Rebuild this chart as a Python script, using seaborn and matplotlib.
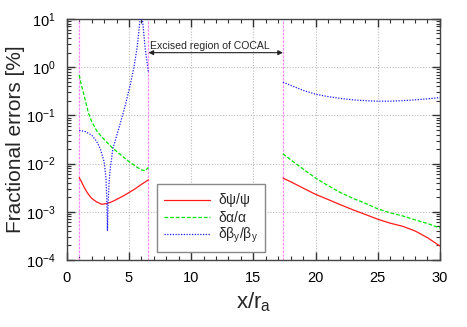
import numpy as np
import pandas as pd
import seaborn as sns
import matplotlib.pyplot as plt
from matplotlib.ticker import LogLocator, MultipleLocator, NullFormatter

# values (x/r_a, fractional error in %)
x_in = [1.0, 1.2, 1.4, 1.6, 1.8, 2.0, 2.4, 2.8, 3.2, 3.6, 4.0, 4.5, 5.0, 5.5, 6.0, 6.57]
psi_in = [0.0051, 0.0041, 0.0032, 0.0026, 0.0022, 0.0019, 0.0016, 0.00143, 0.00148,
          0.0016, 0.0018, 0.0021, 0.0025, 0.0030, 0.0037, 0.0046]

x_in_a = [1.0, 1.15, 1.3, 1.5, 1.75, 2.0, 2.4, 2.8, 3.2, 3.6, 4.0, 4.5, 5.0, 5.6, 6.0, 6.3, 6.57]
alpha_in = [0.69, 0.45, 0.32, 0.20, 0.11, 0.075, 0.048, 0.036, 0.028, 0.022, 0.018,
            0.014, 0.011, 0.0086, 0.0074, 0.0071, 0.0083]

x_in_b = [1.0, 1.5, 2.0, 2.4, 2.7, 3.0, 3.15, 3.22, 3.27, 3.32, 3.4, 3.5, 3.7, 4.0,
          4.3, 4.7, 5.1, 5.4, 5.65, 5.9, 5.97, 6.08, 6.3, 6.57]
beta_in = [0.049, 0.046, 0.039, 0.029, 0.020, 0.011, 0.005, 0.0018, 0.0004, 0.0015,
           0.004, 0.008, 0.02, 0.037, 0.068, 0.16, 0.43, 1.0, 2.5, 10, 30, 10, 2.5, 0.76]

x_out = [17.38, 18, 19, 20, 21, 22, 23, 24, 25, 26, 27, 28, 29, 30]
psi_out = [0.0050, 0.0042, 0.0031, 0.0023, 0.0018, 0.0014, 0.0011, 0.00088, 0.00070,
           0.00058, 0.00050, 0.00040, 0.00029, 0.000195]
alpha_out = [0.016, 0.012, 0.0077, 0.0050, 0.0035, 0.0025, 0.0019, 0.0015, 0.00115,
             0.00095, 0.00082, 0.00068, 0.00057, 0.00046]
beta_out = [0.49, 0.42, 0.33, 0.275, 0.245, 0.225, 0.21, 0.202, 0.197, 0.197, 0.202,
            0.21, 0.22, 0.234]

boundaries = [1.0, 6.57, 17.38]

labels = [r'$\delta\psi/\psi$', r'$\delta\alpha/\alpha$', r'$\delta\beta_y/\beta_y$']
colors = ['#ff1a1a', '#00e600', '#1a1aff']

segs = [
    (x_in, psi_in, labels[0], 'in'), (x_out, psi_out, labels[0], 'out'),
    (x_in_a, alpha_in, labels[1], 'in'), (x_out, alpha_out, labels[1], 'out'),
    (x_in_b, beta_in, labels[2], 'in'), (x_out, beta_out, labels[2], 'out'),
]
frames = []
for xs, ys, lab, part in segs:
    frames.append(pd.DataFrame({'x': xs, 'err': ys, 'quantity': lab, 'seg': lab + part}))
df = pd.concat(frames, ignore_index=True)

sns.set_style('ticks')
plt.rcParams['font.family'] = ['Liberation Sans', 'DejaVu Sans']
plt.rcParams['mathtext.fontset'] = 'custom'
plt.rcParams['mathtext.rm'] = 'Liberation Sans'
plt.rcParams['mathtext.it'] = 'Liberation Sans'
plt.rcParams['mathtext.default'] = 'regular'

fig = plt.figure(figsize=(4.67, 3.27), dpi=100)
ax = fig.add_axes([0.143, 0.205, 0.799, 0.737])

for xb in boundaries:
    ax.axvline(xb, color='#ff88ff', lw=0.9, ls=(0, (2, 1)), zorder=1)

sns.lineplot(data=df, x='x', y='err', hue='quantity', style='quantity',
             units='seg', estimator=None, sort=False, ax=ax,
             palette=dict(zip(labels, colors)),
             dashes={labels[0]: '', labels[1]: (3, 1.5), labels[2]: (1, 1.2)},
             linewidth=0.9, zorder=3)

ax.set_yscale('log')
ax.set_xlim(0, 30)
ax.set_ylim(1e-4, 10)
ax.xaxis.set_major_locator(MultipleLocator(5))
ax.xaxis.set_minor_locator(MultipleLocator(1))
ax.yaxis.set_major_locator(LogLocator(base=10, numticks=10))
ax.yaxis.set_minor_locator(LogLocator(base=10, subs=np.arange(2, 10), numticks=20))
ax.yaxis.set_minor_formatter(NullFormatter())

ax.grid(True, which='major', color='#bbbbbb', ls=(0, (1, 1.5)), lw=0.8)
ax.tick_params(which='both', direction='in', top=True, right=True, colors='#333333',
               labelcolor='black', labelsize=10.5)
ax.tick_params(which='major', length=6, width=1)
ax.tick_params(which='minor', length=3, width=0.8)
ax.tick_params(axis='y', pad=8)
ax.tick_params(axis='x', pad=8)
for sp in ax.spines.values():
    sp.set_color('#444444')
    sp.set_linewidth(1)

ax.set_xlabel(r'x/r$_a$', fontsize=16, labelpad=4)
ax.set_ylabel('Fractional errors [%]', fontsize=15, labelpad=1)

ax.annotate('', xy=(boundaries[1], 2.0), xytext=(boundaries[2], 2.0),
            arrowprops=dict(arrowstyle='<|-|>', color='#222222', lw=0.8,
                            mutation_scale=7, shrinkA=0, shrinkB=0))
ax.text(6.7, 2.15, 'Excised region of COCAL', fontsize=7.6, va='bottom', ha='left')

sns.move_legend(ax, loc='lower left', bbox_to_anchor=(0.242, 0.033), title=None,
                fontsize=10, frameon=True, fancybox=False, edgecolor='#888888',
                framealpha=1, borderaxespad=0, handlelength=3.3, handletextpad=0.6,
                labelspacing=0.05, borderpad=0.5)

fig.savefig('out.png', dpi=100)
